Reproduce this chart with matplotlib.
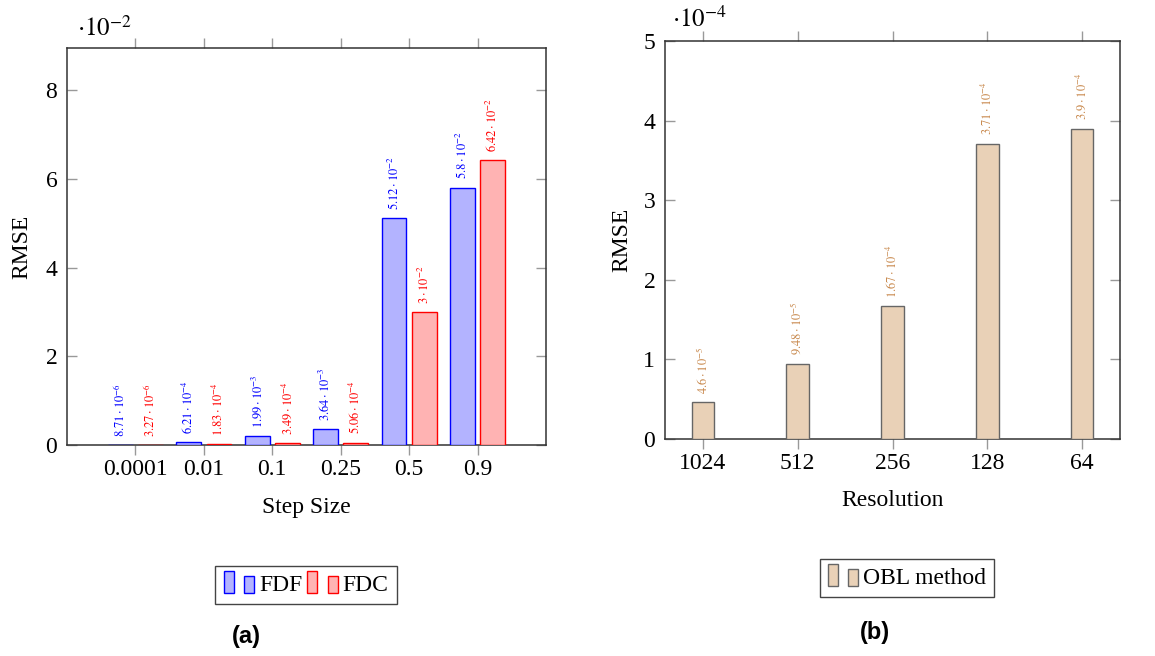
import matplotlib
matplotlib.use('Agg')
import matplotlib.pyplot as plt
from matplotlib.patches import Rectangle, Patch
from matplotlib.legend_handler import HandlerBase

plt.rcParams['font.family'] = ['Liberation Serif', 'DejaVu Serif']
plt.rcParams['mathtext.fontset'] = 'stix'

# data
step_sizes = ['0.0001', '0.01', '0.1', '0.25', '0.5', '0.9']
fdf = [8.71e-6, 6.21e-4, 1.99e-3, 3.64e-3, 5.12e-2, 5.8e-2]
fdc = [3.27e-6, 1.83e-4, 3.49e-4, 5.06e-4, 3e-2, 6.42e-2]

resolutions = ['1024', '512', '256', '128', '64']
obl = [4.6e-5, 9.48e-5, 1.67e-4, 3.71e-4, 3.9e-4]

FS = 17


def sci_label(v):
    m, e = f"{v:.2e}".split('e')
    m = m.rstrip('0').rstrip('.')
    return r"$%s\cdot10^{%d}$" % (m, int(e))


class TwoBarHandler(HandlerBase):
    # pgfplots style ybar legend image: two small bars
    def create_artists(self, legend, orig_handle, xdescent, ydescent,
                       width, height, fontsize, trans):
        fc = orig_handle.get_facecolor()
        ec = orig_handle.get_edgecolor()
        w = width * 0.33
        r1 = Rectangle((-xdescent, -ydescent - 0.15 * height), w, height * 1.35,
                       facecolor=fc, edgecolor=ec, lw=1, transform=trans)
        r2 = Rectangle((-xdescent + width - w, -ydescent - 0.15 * height), w, height * 1.05,
                       facecolor=fc, edgecolor=ec, lw=1, transform=trans)
        return [r1, r2]


def style_axes(ax):
    for s in ax.spines.values():
        s.set_color('#333333')
        s.set_linewidth(1.1)
    ax.tick_params(axis='x', direction='out', length=7, width=1, color='#999999',
                   top=True, labeltop=False, labelsize=FS, pad=3)
    ax.tick_params(axis='y', direction='in', length=7, width=1, color='#999999',
                   right=True, labelsize=FS, pad=7)


fig = plt.figure(figsize=(11.55, 6.56), dpi=100)

# (a)
ax1 = fig.add_axes([67 / 1155, 1 - 445 / 656, 479 / 1155, 397 / 656])
x = list(range(len(step_sizes)))
w = 0.36
off = 0.22
fdf_s = [v * 1e2 for v in fdf]
fdc_s = [v * 1e2 for v in fdc]
ax1.bar([i - off for i in x], fdf_s, w, color=(0.7, 0.7, 1.0), edgecolor='blue', lw=1,
        label='FDF', zorder=3)
ax1.bar([i + off for i in x], fdc_s, w, color=(1.0, 0.7, 0.7), edgecolor='red', lw=1,
        label='FDC', zorder=3)
for i in x:
    ax1.annotate(sci_label(fdf[i]), (i - off, fdf_s[i]), xytext=(0, 6), textcoords='offset points',
                 rotation=90, ha='center', va='bottom', fontsize=9, color='blue')
    ax1.annotate(sci_label(fdc[i]), (i + off, fdc_s[i]), xytext=(0, 6), textcoords='offset points',
                 rotation=90, ha='center', va='bottom', fontsize=9, color='red')
ax1.set_xlim(-1, 6)
ax1.set_ylim(0, 8.95)
ax1.set_xticks(x)
ax1.set_xticklabels(step_sizes)
ax1.set_yticks([0, 2, 4, 6, 8])
style_axes(ax1)
ax1.set_xlabel('Step Size', fontsize=FS, va='center')
ax1.xaxis.set_label_coords(0.5, -63 / 397)
ax1.set_ylabel('RMSE', fontsize=FS, va='center')
ax1.yaxis.set_label_coords(-45 / 479, 0.5)
ax1.text(0.02, 1.05, r'$\cdot10^{-2}$', transform=ax1.transAxes, fontsize=FS + 1, ha='left', va='center')
leg1 = fig.legend(handles=[Patch(facecolor=(0.7, 0.7, 1.0), edgecolor='blue'),
                           Patch(facecolor=(1.0, 0.7, 0.7), edgecolor='red')],
                  labels=['FDF', 'FDC'], handler_map={Patch: TwoBarHandler()},
                  loc='center', bbox_to_anchor=(306 / 1155, 1 - 585 / 656), ncol=2,
                  fontsize=FS, fancybox=False, handlelength=1.3, handletextpad=0.2,
                  columnspacing=0.2, borderpad=0.35, framealpha=1)
leg1.get_frame().set_edgecolor('#444444')
fig.text(246 / 1155, 1 - 636 / 656, '(a)', fontsize=17, fontweight='bold',
         family='Liberation Sans', ha='center', va='center')

# (b)
ax2 = fig.add_axes([665 / 1155, 1 - 439 / 656, 455 / 1155, 398 / 656])
xr = list(range(len(resolutions)))
obl_s = [v * 1e4 for v in obl]
ax2.bar(xr, obl_s, 0.24, color='#e9d1b7', edgecolor='#666666', lw=1, zorder=3)
for i in xr:
    ax2.annotate(sci_label(obl[i]), (i, obl_s[i]), xytext=(0, 6), textcoords='offset points',
                 rotation=90, ha='center', va='bottom', fontsize=9, color='#c8884c')
ax2.set_xlim(-0.4, 4.4)
ax2.set_ylim(0, 5)
ax2.set_xticks(xr)
ax2.set_xticklabels(resolutions)
ax2.set_yticks([0, 1, 2, 3, 4, 5])
style_axes(ax2)
ax2.set_xlabel('Resolution', fontsize=FS, va='center')
ax2.xaxis.set_label_coords(0.5, -61 / 398)
ax2.set_ylabel('RMSE', fontsize=FS, va='center')
ax2.yaxis.set_label_coords(-43 / 455, 0.5)
ax2.text(0.015, 1.055, r'$\cdot10^{-4}$', transform=ax2.transAxes, fontsize=FS + 1, ha='left', va='center')
leg2 = fig.legend(handles=[Patch(facecolor='#e9d1b7', edgecolor='#666666')],
                  labels=['OBL method'], handler_map={Patch: TwoBarHandler()},
                  loc='center', bbox_to_anchor=(907 / 1155, 1 - 578 / 656),
                  fontsize=FS, fancybox=False, handlelength=1.3, handletextpad=0.2,
                  borderpad=0.35, framealpha=1)
leg2.get_frame().set_edgecolor('#444444')
fig.text(875 / 1155, 1 - 632 / 656, '(b)', fontsize=17, fontweight='bold',
         family='Liberation Sans', ha='center', va='center')

fig.savefig('out.png', dpi=100)
